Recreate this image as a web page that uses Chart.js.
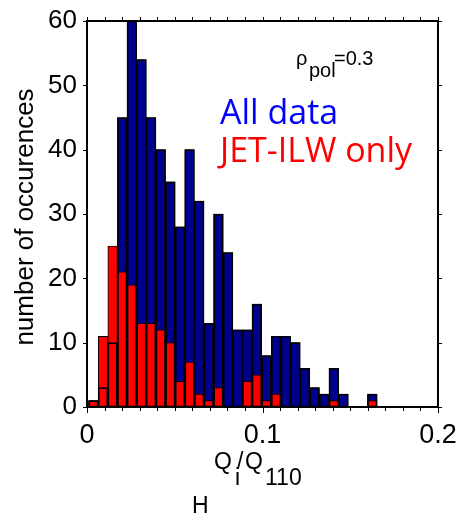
<!DOCTYPE html>
<html><head><meta charset="utf-8">
<script src="https://cdn.jsdelivr.net/npm/chart.js@4.4.1/dist/chart.umd.min.js"></script>
<style>html,body{margin:0;padding:0;background:#fff;}canvas{display:block;}</style>
</head><body>
<canvas id="c" width="459" height="514"></canvas>
<script>
// Histogram bins (centres of the 30 equal-width bins)
const binCenters = [0.00364,0.00912,0.0146,0.02008,0.02556,0.03104,0.03652,0.042,0.04748,0.05296,
  0.05844,0.06392,0.0694,0.07488,0.08036,0.08584,0.09132,0.0968,0.10228,0.10776,
  0.11324,0.11872,0.1242,0.12968,0.13516,0.14064,0.14612,0.1516,0.15708,0.16256];
// Counts: all data (blue)
const allData = [1,3,10,45,60,54,45,40,35,28,40,32,13,30,24,12,12,16,8,11,11,10,6,3,2,6,2,0,0,2];
// Counts: JET-ILW only (red)
const jetIlwOnly = [1,11,25,21,19,13,13,12,10,4,7,2,1,3,0,0,4,5,1,2,0,0,0,0,0,1,0,0,0,1];
// Axis ticks
const xLabelValues = [0, 0.1, 0.2];
const xLabelTexts = ['0', '0.1', '0.2'];
const yTickStep = 10;
const xTickStep = 0.01;

const toPts = arr => arr.map((v, i) => ({x: binCenters[i], y: v}));

const framePlugin = {
  id: 'frame',
  afterDatasetsDraw(chart) {
    const {ctx, chartArea: a, scales} = chart;
    ctx.save();
    ctx.strokeStyle = '#000';
    ctx.lineWidth = 1;
    ctx.beginPath();
    scales.y.ticks.forEach(t => {
      const py = Math.round(scales.y.getPixelForValue(t.value)) + 0.5;
      ctx.moveTo(a.left - 4, py); ctx.lineTo(a.left, py);
      ctx.moveTo(a.right, py); ctx.lineTo(a.right + 4, py);
    });
    scales.x.ticks.forEach(t => {
      const px = Math.round(scales.x.getPixelForValue(t.value)) + 0.5;
      const major = xLabelValues.some(v => Math.abs(v - t.value) < 1e-9);
      ctx.moveTo(px, a.bottom); ctx.lineTo(px, a.bottom + (major ? 6 : 4));
      ctx.moveTo(px, a.top - 4); ctx.lineTo(px, a.top);
    });
    ctx.stroke();
    ctx.lineWidth = 2;
    ctx.strokeRect(a.left, a.top, a.right - a.left, a.bottom - a.top);
    ctx.restore();
  },
  afterDraw(chart) {
    const ctx = chart.ctx;
    ctx.save();
    ctx.textBaseline = 'alphabetic';
    ctx.textAlign = 'left';
    ctx.fillStyle = '#000';
    ctx.font = '20px "Liberation Sans", Arial, sans-serif';
    ctx.fillText('ρ', 296, 65);
    ctx.fillText('pol', 309, 77);
    ctx.fillText('=0.3', 334, 65);
    ctx.font = '34px "Open Sans", sans-serif';
    ctx.fillStyle = '#0000ff';
    ctx.fillText('All data', 220, 124);
    ctx.fillStyle = '#ff0000';
    ctx.fillText('JET-ILW only', 220, 162);
    ctx.fillStyle = '#000';
    ctx.font = '23px "Liberation Sans", Arial, sans-serif';
    ctx.fillText('Q', 214, 469);
    ctx.fillText('i', 235, 485);
    ctx.fillText('/', 237, 469);
    ctx.fillText('Q', 245, 469);
    ctx.fillText('110', 265, 485);
    ctx.fillText('H', 192, 513);
    ctx.font = '26px "Liberation Sans", Arial, sans-serif';
    ctx.translate(33, 217);
    ctx.rotate(-Math.PI / 2);
    ctx.textAlign = 'center';
    ctx.fillText('number of occurences', 0, 0);
    ctx.restore();
  }
};

new Chart(document.getElementById('c'), {
  type: 'bar',
  data: {
    datasets: [
      {label: 'All data', data: toPts(allData), backgroundColor: '#00008f', borderColor: '#000', borderWidth: 1,
       borderSkipped: false, grouped: false, order: 3, barPercentage: 1, categoryPercentage: 1},
      {label: 'JET-ILW only', data: toPts(jetIlwOnly), backgroundColor: '#ff0000', borderColor: '#000', borderWidth: 1,
       borderSkipped: false, grouped: false, order: 2, barPercentage: 1, categoryPercentage: 1},
      {label: 'All data outline', data: toPts(allData), backgroundColor: 'rgba(0,0,0,0)', borderColor: '#000', borderWidth: 1,
       borderSkipped: false, grouped: false, order: 1, barPercentage: 1, categoryPercentage: 1}
    ]
  },
  options: {
    responsive: false,
    animation: false,
    devicePixelRatio: 1,
    layout: {padding: {left: 0, right: 21, top: 21, bottom: 0}},
    plugins: {legend: {display: false}, tooltip: {enabled: false}, title: {display: false}},
    scales: {
      x: {
        type: 'linear', min: 0, max: 0.2, offset: false,
        grid: {display: false, drawTicks: false}, border: {display: false},
        ticks: {
          stepSize: xTickStep, autoSkip: false, maxRotation: 0, padding: 12,
          color: '#000', font: {family: '"Liberation Sans", Arial, sans-serif', size: 27},
          callback: v => {
            const k = xLabelValues.findIndex(x => Math.abs(x - v) < 1e-9);
            return k >= 0 ? xLabelTexts[k] : '';
          }
        },
        afterFit: s => { s.height = 107; s.paddingLeft = 0; s.paddingRight = 0; }
      },
      y: {
        min: 0, max: 60,
        grid: {display: false, drawTicks: false}, border: {display: false},
        ticks: {stepSize: yTickStep, padding: 10, color: '#000',
          font: {family: '"Liberation Sans", Arial, sans-serif', size: 26}},
        afterFit: s => { s.width = 87; s.paddingTop = 0; s.paddingBottom = 0; }
      }
    }
  },
  plugins: [framePlugin]
});
</script>
</body></html>
